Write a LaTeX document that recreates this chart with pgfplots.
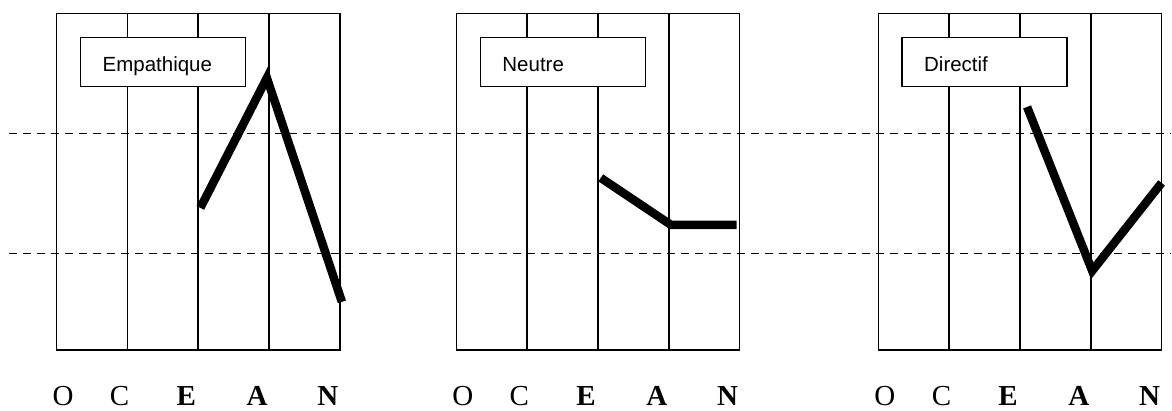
\documentclass[border=0pt]{standalone}
\usepackage{fontspec}
\setmainfont{Liberation Serif}
\newfontfamily\arial{Liberation Sans}
\usepackage{pgfplots}
\pgfplotsset{compat=1.18}
\pgfplotsset{
  ocean/.style={
    width=283.3bp, height=336.3bp, scale only axis,
    xmin=0, xmax=4, ymin=0, ymax=336.3,
    clip=false,
    axis line style={black, line width=1.6bp},
    ytick=\empty,
    xtick={0.09,0.89,1.83,2.83,3.83},
    xticklabels={O,C,\textbf{E},\textbf{A},\textbf{N}},
    major tick length=0pt,
    xticklabel style={anchor=base, yshift=-56bp, inner sep=0pt,
      font=\fontsize{29bp}{31bp}\selectfont},
    extra x ticks={1,2,3},
    extra x tick labels={},
    extra x tick style={xmajorgrids=true},
    major grid style={black, line width=1.5bp},
  },
}
\tikzset{
  profil/.style={black, line width=8.5bp},
  etiquette/.style={draw, fill=white, line width=1.5bp, anchor=north west,
    inner xsep=22bp, inner ysep=0pt, text width=121bp, align=left,
    text height=34bp, text depth=15bp,
    font=\arial\fontsize{20.5bp}{22bp}\selectfont},
}

\begin{document}
\begin{tikzpicture}[x=1bp,y=1bp]
\path (0,0) rectangle (1172,411);

% Empathique
\begin{axis}[ocean, at={(56.7bp,61bp)}, anchor=south west]
\addplot[profil, no marks] coordinates {(2.03,142) (2.97,272) (4.03,48)};
\node[etiquette] at (axis cs:0.329,313) {Empathique};
\end{axis}

% Neutre
\begin{axis}[ocean, at={(456.7bp,61bp)}, anchor=south west]
\addplot[profil, no marks] coordinates {(2.04,172) (3.03,125) (3.96,125)};
\node[etiquette] at (axis cs:0.329,313) {Neutre};
\end{axis}

% Directif
\begin{axis}[ocean, at={(879bp,61bp)}, anchor=south west]
\addplot[profil, no marks] coordinates {(2.10,243) (3.02,79) (4.0,167)};
\node[etiquette] at (axis cs:0.325,313) {Directif};
\end{axis}

% reference lines across the whole figure
\draw[black, line width=1.5bp, dash pattern=on 8bp off 6bp] (9,277.5) -- (1172,277.5);
\draw[black, line width=1.5bp, dash pattern=on 8bp off 6bp] (9,157.3) -- (1172,157.3);
\end{tikzpicture}
\end{document}
